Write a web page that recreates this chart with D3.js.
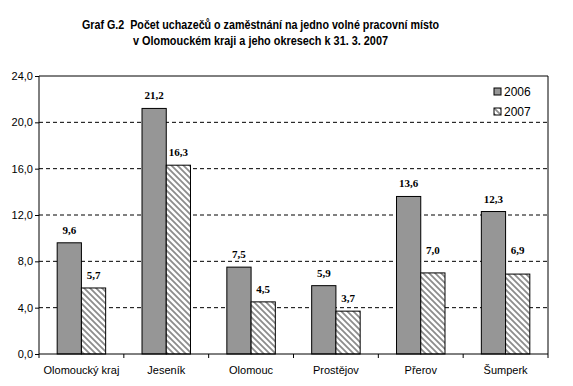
<!DOCTYPE html>
<html>
<head>
<meta charset="utf-8">
<script src="https://cdn.jsdelivr.net/npm/d3@7"></script>
<style>
  body { margin: 0; background: #fff; }
  text { font-family: "Liberation Sans", Arial, sans-serif; }
</style>
</head>
<body>
<script>
// Graf G.2 - uchazeci na jedno volne pracovni misto
var categories = ['Olomoucký kraj', 'Jeseník', 'Olomouc', 'Prostějov', 'Přerov', 'Šumperk'];
var series = ['2006', '2007'];
var values2006 = [9.6, 21.2, 7.5, 5.9, 13.6, 12.3];
var values2007 = [5.7, 16.3, 4.5, 3.7, 7.0, 6.9];
var yTicks = [0, 4, 8, 12, 16, 20, 24];
var titleLines = [
  'Graf G.2  Počet uchazečů o zaměstnání na jedno volné pracovní místo',
  'v Olomouckém kraji a jeho okresech k 31. 3. 2007'
];

var W = 573, H = 386;
var m = { left: 39, top: 76, right: 548, bottom: 354 };

var svg = d3.select('body').append('svg')
    .attr('width', W)
    .attr('height', H);

var defs = svg.append('defs');
var pat = defs.append('pattern')
    .attr('id', 'hatch')
    .attr('patternUnits', 'userSpaceOnUse')
    .attr('width', 6)
    .attr('height', 6);
pat.append('rect').attr('width', 6).attr('height', 6).attr('fill', '#fff');
pat.append('path')
    .attr('d', 'M0,0L6,6M-1,5L1,7M5,-1L7,1')
    .attr('stroke', '#8c8c8c')
    .attr('stroke-width', 1.8);

var fills = ['#969696', 'url(#hatch)'];

var y = d3.scaleLinear()
    .domain([0, 24])
    .range([m.bottom, m.top]);

var x = d3.scaleBand()
    .domain(categories)
    .range([m.left, m.right])
    .paddingInner(0)
    .paddingOuter(0);

// gap width 150% like excel
var bw = x.bandwidth() / 3.5;

// title, squeezed to look like arial narrow
var titleW = [357, 255];
svg.append('g').selectAll('text')
  .data(titleLines)
  .enter().append('text')
    .attr('x', 260.5)
    .attr('y', (d, i) => 29 + i * 16)
    .attr('text-anchor', 'middle')
    .attr('textLength', (d, i) => titleW[i])
    .attr('lengthAdjust', 'spacingAndGlyphs')
    .style('white-space', 'pre')
    .style('font-weight', 'bold')
    .style('font-size', '12.5px')
    .text(d => d);

// gridlines
var grid = yTicks.filter(d => d > 0 && d < 24);
svg.append('g').selectAll('line')
  .data(grid)
  .enter().append('line')
    .attr('x1', m.left).attr('x2', m.right)
    .attr('y1', d => y(d)).attr('y2', d => y(d))
    .attr('stroke', '#000')
    .attr('stroke-dasharray', '4,3');

// bars
var rows = categories.map((c, i) => ({ cat: c, vals: [values2006[i], values2007[i]] }));

var groups = svg.append('g').selectAll('g')
  .data(rows)
  .enter().append('g');

groups.selectAll('rect')
  .data(d => d.vals.map((v, j) => ({ cat: d.cat, v: v, j: j })))
  .enter().append('rect')
    .attr('x', d => x(d.cat) + x.bandwidth() / 2 - bw + d.j * bw)
    .attr('y', d => y(d.v))
    .attr('width', bw)
    .attr('height', d => y(0) - y(d.v))
    .attr('fill', d => fills[d.j])
    .attr('stroke', '#000')
    .attr('stroke-width', 1);

// label centre 13px above the bar; lift it over a gridline if it would sit on one
function labelY(v) {
  var c = y(v) - 13;
  grid.forEach(g => {
    if (Math.abs(y(g) - c) < 6) c = y(g) - 11;
  });
  return c + 4;
}

groups.selectAll('text.val')
  .data(d => d.vals.map((v, j) => ({ cat: d.cat, v: v, j: j })))
  .enter().append('text')
    .attr('class', 'val')
    .attr('x', d => x(d.cat) + x.bandwidth() / 2 - bw + d.j * bw + bw / 2)
    .attr('y', d => labelY(d.v))
    .attr('text-anchor', 'middle')
    .style('font-family', '"Liberation Serif", "Times New Roman", serif')
    .style('font-weight', 'bold')
    .style('font-size', '11px')
    .text(d => d3.format('.1f')(d.v).replace('.', ','));

// plot frame (top + right)
svg.append('path')
    .attr('d', `M${m.left},${m.top}H${m.right}V${m.bottom}`)
    .attr('fill', 'none')
    .attr('stroke', '#000');

// axes
var yAxis = d3.axisLeft(y)
    .tickValues(yTicks)
    .tickSize(4)
    .tickFormat(d => d3.format('.1f')(d).replace('.', ','));

var gy = svg.append('g')
    .attr('transform', `translate(${m.left},0)`)
    .call(yAxis);
gy.selectAll('text').style('font-size', '11px').attr('x', -6);
gy.select('.domain').attr('d', `M0,${m.top}V${m.bottom}`);

var xAxis = d3.axisBottom(x).tickSize(0).tickPadding(12);
var gx = svg.append('g')
    .attr('transform', `translate(0,${m.bottom})`)
    .call(xAxis);
gx.selectAll('text').style('font-size', '11px');
gx.select('.domain').attr('d', `M${m.left},0H${m.right}`);

// category separator ticks
gx.selectAll('line.sep')
  .data(d3.range(categories.length + 1))
  .enter().append('line')
    .attr('class', 'sep')
    .attr('x1', i => m.left + i * x.bandwidth())
    .attr('x2', i => m.left + i * x.bandwidth())
    .attr('y1', 0).attr('y2', 4)
    .attr('stroke', '#000');

// legend
var leg = svg.append('g').selectAll('g')
  .data(series)
  .enter().append('g')
    .attr('transform', (d, i) => `translate(494,${88 + i * 20})`);
leg.append('rect')
    .attr('width', 7).attr('height', 7)
    .attr('fill', (d, i) => fills[i])
    .attr('stroke', '#000');
leg.append('text')
    .attr('x', 10).attr('y', 8)
    .style('font-size', '12px')
    .text(d => d);
</script>
</body>
</html>
